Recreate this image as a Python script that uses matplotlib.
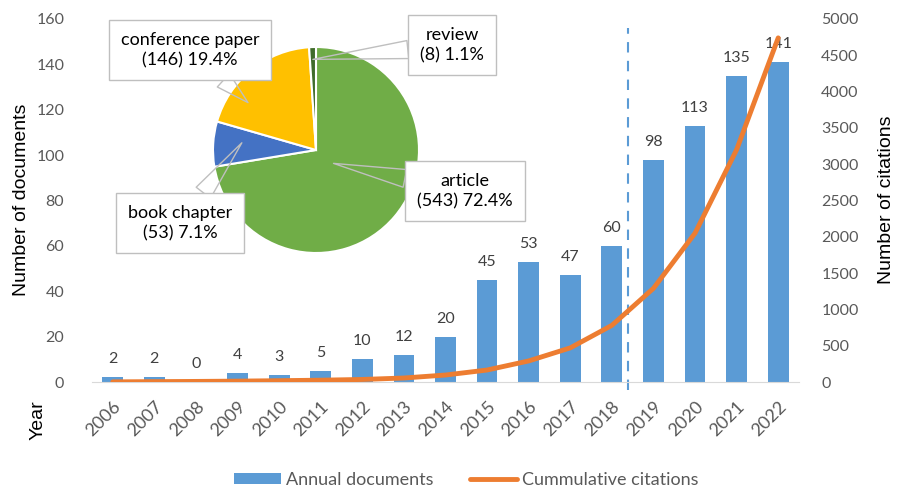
import matplotlib
matplotlib.use('Agg')
import matplotlib.pyplot as plt
from matplotlib.transforms import Bbox, TransformedBbox
import numpy as np

years = [str(y) for y in range(2006, 2023)]
docs = [2, 2, 0, 4, 3, 5, 10, 12, 20, 45, 53, 47, 60, 98, 113, 135, 141]
citations = [2, 5, 8, 12, 18, 25, 35, 55, 96, 165, 290, 470, 780, 1290, 2050, 3200, 4740]

pie_names = ['article', 'book chapter', 'conference paper', 'review']
pie_counts = [543, 53, 146, 8]
pie_pct = ['72.4%', '7.1%', '19.4%', '1.1%']
pie_colors = ['#70AD47', '#4472C4', '#FFC000', '#3F6B2A']

BLUE = '#5B9BD5'
ORANGE = '#ED7D31'
GREY = '#595959'
calibri = ['Lato', 'DejaVu Sans']
arial = ['Liberation Sans', 'DejaVu Sans']

fig = plt.figure(figsize=(8.97, 4.88), dpi=100)
W, H = 897, 488
ax = fig.add_axes([92 / W, 1 - 382 / H, 707 / W, 363 / H])
x = np.arange(len(years))
bars = ax.bar(x, docs, width=0.5, color=BLUE, label='Annual documents')
ax.bar_label(bars, padding=8, fontsize=11.5, color='#404040', family=calibri)
ax.set_xlim(-0.5, len(years) - 0.5)
ax.set_ylim(0, 160)
ax.set_yticks(range(0, 161, 20))
ax.set_xticks(x)
ax.set_xticklabels(years, rotation=45, ha='right', rotation_mode='anchor')
for lab in ax.get_yticklabels():
    lab.set_family(calibri)
    lab.set_fontsize(11.5)
    lab.set_color(GREY)
for lab in ax.get_xticklabels():
    lab.set_family(calibri)
    lab.set_fontsize(13)
    lab.set_color(GREY)
ax.tick_params(axis='both', length=0)
ax.tick_params(axis='y', pad=20)
ax.tick_params(axis='x', pad=12)
for s in ['top', 'right', 'left']:
    ax.spines[s].set_visible(False)
ax.spines['bottom'].set_color('#D9D9D9')

# dashed separator between 2018 and 2019
ax.plot([12.38, 12.38], [-3.5, 156], ls=(0, (5, 4)), color=BLUE, lw=1.5, clip_on=False)

ax2 = ax.twinx()
ax2.plot(x, citations, color=ORANGE, lw=3.5, label='Cummulative citations', solid_capstyle='round')
ax2.set_ylim(0, 5000)
ax2.set_yticks(range(0, 5001, 500))
for lab in ax2.get_yticklabels():
    lab.set_family(calibri)
    lab.set_fontsize(11.5)
    lab.set_color(GREY)
ax2.tick_params(axis='y', length=0, pad=16)
for s in ['top', 'right', 'left', 'bottom']:
    ax2.spines[s].set_visible(False)

fig.text(22 / W, 1 - 200 / H, 'Number of documents', rotation=90, ha='center', va='center',
         fontsize=14, family=arial)
fig.text(886 / W, 1 - 200 / H, 'Number of citations', rotation=90, ha='center', va='center',
         fontsize=14, family=arial)
fig.text(38 / W, 1 - 420 / H, 'Year', rotation=90, ha='center', va='center', fontsize=14, family=arial)

h1, l1 = ax.get_legend_handles_labels()
h2, l2 = ax2.get_legend_handles_labels()
leg = fig.legend(h1 + h2, l1 + l2, loc='center', bbox_to_anchor=(0.52, 1 - 480 / H), ncol=2,
                 frameon=False, handlelength=2.6, handleheight=0.55, columnspacing=2.0,
                 handletextpad=0.3, prop={'family': calibri, 'size': 13})
for t in leg.get_texts():
    t.set_color(GREY)

# pie inset
cx, cy, r = 316, 150, 103
pax = fig.add_axes([(cx - r) / W, 1 - (cy + r) / H, 2 * r / W, 2 * r / H])
pax.pie(pie_counts, colors=pie_colors, startangle=90, counterclock=False,
        wedgeprops=dict(edgecolor='white', linewidth=1.5))
pax.set_xlim(-1, 1)
pax.set_ylim(-1, 1)
pax.set_aspect('equal')
pax.axis('off')

# label positions (image px) and pointer positions inside slices (pie units)
text_px = [(465, 191), (180, 223), (190, 50), (452, 45)]
point_xy = [(0.17, -0.13), (-0.72, 0.07), (-0.66, 0.46), (-0.03, 0.88)]
for name, n, p, tp, pt in zip(pie_names, pie_counts, pie_pct, text_px, point_xy):
    ann = pax.annotate(f'{name}\n({n}) {p}', xy=pt, xycoords='data',
                       xytext=(tp[0], H - tp[1]), textcoords='figure pixels',
                       ha='center', va='center', fontsize=13, family=calibri,
                       linespacing=1.3,
                       bbox=dict(boxstyle='square,pad=0.65', fc='white', ec='#BFBFBF', lw=1),
                       arrowprops=dict(arrowstyle='wedge,tail_width=1.0,shrink_factor=0.5',
                                       fc='none', ec='#BFBFBF', lw=1, shrinkA=0, shrinkB=0),
                       annotation_clip=False)
    if name == 'book chapter':
        # this box is cut off at the bottom in the original
        ann.set_clip_path(None)
        ann.set_clip_box(TransformedBbox(Bbox([[0, 1 - 255 / H], [1, 1]]), fig.transFigure))
        ann.set_clip_on(True)

fig.savefig('out.png', dpi=100)
